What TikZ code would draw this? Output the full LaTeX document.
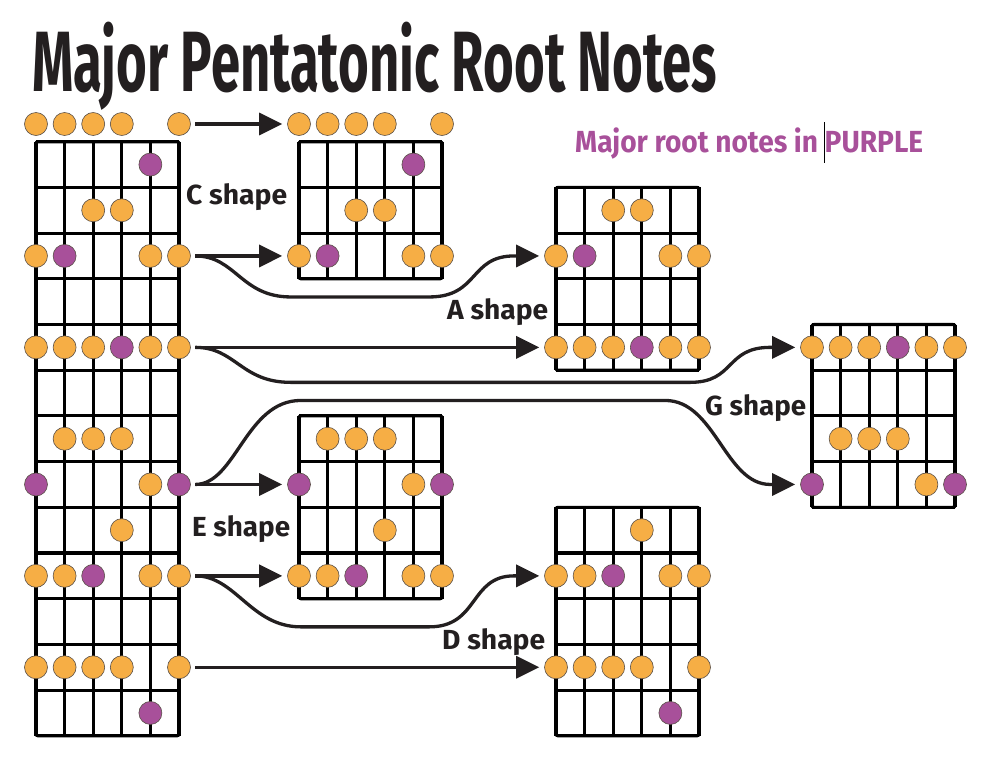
\documentclass[tikz,border=0pt]{standalone}
\usepackage{fontspec}
\setmainfont{Fira Sans}
\usetikzlibrary{arrows.meta, calc}
\definecolor{rootpurple}{HTML}{A8509A}
\definecolor{noteorange}{HTML}{F6AE45}
\definecolor{inkdark}{HTML}{231F20}
\definecolor{dotrim}{HTML}{5A5048}

% notes: row/string/colour (row 0 = open strings)
\def\notelist{0/1/o,0/2/o,0/3/o,0/4/o,0/6/o, 1/5/p, 2/3/o,2/4/o,
  3/1/o,3/2/p,3/5/o,3/6/o, 5/1/o,5/2/o,5/3/o,5/4/p,5/5/o,5/6/o,
  7/2/o,7/3/o,7/4/o, 8/1/p,8/5/o,8/6/p, 9/4/o,
  10/1/o,10/2/o,10/3/p,10/5/o,10/6/o, 12/1/o,12/2/o,12/3/o,12/4/o,12/6/o, 13/5/p}

% #1 name, #2 x shift, #3 first fret, #4 last fret
\newcommand{\fretboard}[4]{%
  \begin{scope}[xshift=#2]
    \foreach \s in {0,...,5}
      \draw[fretline] ({36+28.6*\s},{141.7+45.7*#3}) -- ({36+28.6*\s},{141.7+45.7*#4});
    \foreach \f in {#3,...,#4}
      \draw[fretline] (36,{141.7+45.7*\f}) -- (179,{141.7+45.7*\f});
    \draw[fretline, rounded corners=2pt] (36,{141.7+45.7*#3}) rectangle (179,{141.7+45.7*#4});
    \foreach \r/\s/\col in \notelist {
      \pgfmathtruncatemacro\shown{(\r>#3 && \r<=#4) || (\r==0 && #3==0)}
      \ifnum\shown=1
        \pgfmathsetmacro\ny{\r==0 ? 124 : 141.7+45.7*(\r-0.5)}
        \node[\col dot] (#1-\r-\s) at ({36+28.6*(\s-1)},\ny) {};
      \fi
    }
  \end{scope}}

\newcommand{\fitto}[2]{\resizebox{#1}{\height}{#2}}

\begin{document}
\begin{tikzpicture}[x=1pt, y=-1pt,
   fretline/.style={line width=3.1pt, black},
   odot/.style={circle, draw=dotrim, line width=0.6pt, fill=noteorange,
                minimum size=23pt, inner sep=0pt},
   pdot/.style={odot, fill=rootpurple},
   arr/.style={-{Triangle[length=23pt,width=22pt]}, line width=3.3pt, inkdark,
               shorten <=4.5pt, shorten >=5pt},
   shapelabel/.style={anchor=base west, inner sep=0pt, text=inkdark,
                      font=\bfseries\fontsize{27.6}{28}\selectfont}]
 \useasboundingbox (0,0) rectangle (993,769);

 \node[anchor=base west, inner sep=0pt, text=inkdark] (title) at (32,91)
   {\fitto{685pt}{\bfseries\fontsize{85.6}{86}\selectfont Major Pentatonic Root Notes}};
 \node[anchor=base west, inner sep=0pt, text=rootpurple] (legend) at (575,152.7)
   {\fitto{348pt}{\bfseries\fontsize{30.5}{31}\selectfont Major root notes in PURPLE}};
 \draw[line width=0.8pt] (824.3,122) -- (824.3,163);

 \fretboard{big}{0}{0}{13}
 \fretboard{c}{263}{0}{3}
 \fretboard{a}{520}{1}{5}
 \fretboard{g}{776}{4}{8}
 \fretboard{e}{263}{6}{10}
 \fretboard{d}{520}{8}{13}

 \node[shapelabel] (lblc) at (186,204.5) {\fitto{101pt}{C shape}};
 \node[shapelabel] (lbla) at (447,319.3) {\fitto{101pt}{A shape}};
 \node[shapelabel] (lblg) at (705,415.5) {\fitto{101pt}{G shape}};
 \node[shapelabel] (lble) at (192,536.7) {\fitto{98pt}{E shape}};
 \node[shapelabel] (lbld) at (442,649.5) {\fitto{103pt}{D shape}};

 \draw[arr] (big-0-6) -- (c-0-1);
 \draw[arr] (big-3-6) -- (c-3-1);
 \draw[arr] (big-3-6.east) .. controls +(45,0) and +(-50,0) .. ($(big-3-6.east)+(100,41)$)
   -- ($(a-3-1.west)+(-115,41)$) .. controls +(50,0) and +(-45,0) .. ($(a-3-1.west)+(-30,0)$)
   -- (a-3-1.west);
 \draw[arr] (big-5-6) -- (a-5-1);
 \draw[arr] (big-5-6.east) .. controls +(45,0) and +(-50,0) .. ($(big-5-6.east)+(100,35)$)
   -- ($(g-5-1.west)+(-110,35)$) .. controls +(45,0) and +(-45,0) .. ($(g-5-1.west)+(-30,0)$)
   -- (g-5-1.west);
 \draw[arr] (big-8-6.east) .. controls +(45,0) and +(-55,0) .. ($(big-8-6.east)+(110,-84)$)
   -- ($(g-8-1.west)+(-135,-84)$) .. controls +(50,0) and +(-45,0) .. ($(g-8-1.west)+(-30,0)$)
   -- (g-8-1.west);
 \draw[arr] (big-8-6) -- (e-8-1);
 \draw[arr] (big-10-6) -- (e-10-1);
 \draw[arr] (big-10-6.east) .. controls +(45,0) and +(-50,0) .. ($(big-10-6.east)+(110,51)$)
   -- ($(d-10-1.west)+(-115,51)$) .. controls +(50,0) and +(-45,0) .. ($(d-10-1.west)+(-30,0)$)
   -- (d-10-1.west);
 \draw[arr] (big-12-6) -- (d-12-1);
\end{tikzpicture}
\end{document}
